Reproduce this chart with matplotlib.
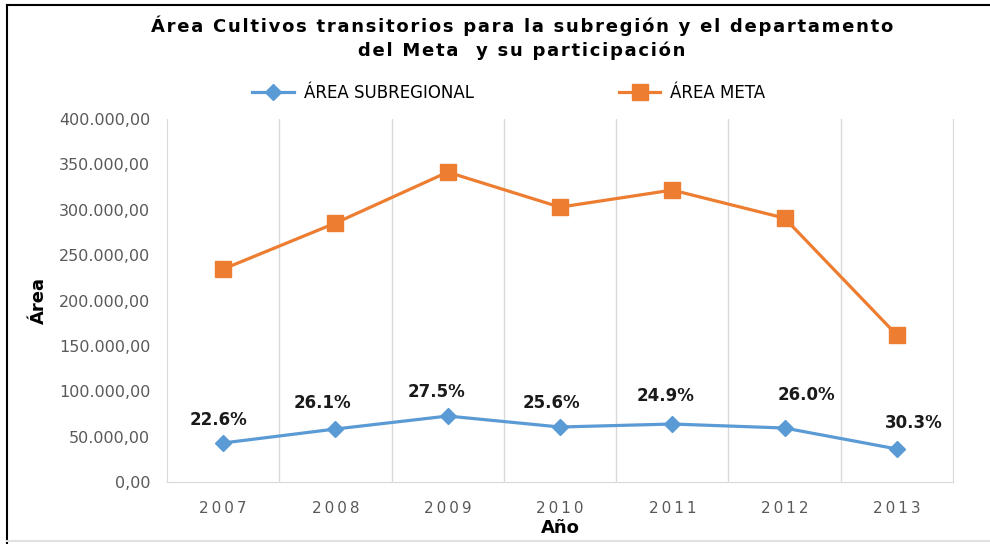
import numpy as np
import matplotlib.pyplot as plt
from matplotlib.lines import Line2D

years = ["2007", "2008", "2009", "2010", "2011", "2012", "2013"]
area_sub = [43000, 58400, 72700, 60600, 63900, 59500, 36400]
area_meta = [234700, 285400, 341600, 303000, 321800, 290900, 162000]
share = ["22.6%", "26.1%", "27.5%", "25.6%", "24.9%", "26.0%", "30.3%"]

# label offsets (points) relative to the blue markers
offs = [(-3, 10), (-9, 12), (-8, 11), (-6, 11), (-5, 14), (16, 17), (12, 12)]

blue = "#5B9BD5"
orange = "#ED7D31"
grey = "#595959"

fig = plt.figure(figsize=(9.9, 5.44), dpi=100)
ax = fig.add_axes([0.1687, 0.114, 0.7939, 0.667])

x = np.arange(len(years))
ax.plot(x, area_sub, color=blue, lw=2.3, marker="D", ms=8.5, label="ÁREA SUBREGIONAL")
ax.plot(x, area_meta, color=orange, lw=2.3, marker="s", ms=11, label="ÁREA META")

for i in range(len(x)):
    ax.annotate(share[i], (x[i], area_sub[i]), xytext=offs[i], textcoords="offset points",
                ha="center", va="bottom", fontsize=12, fontweight="bold", color="#1a1a1a")

ax.set_xlim(-0.5, len(years) - 0.5)
ax.set_ylim(0, 400000)
ax.set_yticks(np.arange(0, 400001, 50000))
ax.set_yticklabels([f"{int(v):,}".replace(",", ".") + ",00" for v in np.arange(0, 400001, 50000)])
ax.set_xticks(x)
ax.set_xticklabels(["\u2009".join(y) for y in years])
ax.set_xticks(np.arange(0.5, len(years) - 0.5), minor=True)
ax.grid(True, which="minor", axis="x", color="#D9D9D9", lw=1)
ax.tick_params(axis="both", which="both", length=0)
ax.tick_params(axis="y", labelsize=11.5, labelcolor=grey, pad=12)
ax.tick_params(axis="x", labelsize=11, labelcolor=grey, pad=14)

ax.spines["top"].set_visible(False)
for s in ["left", "right", "bottom"]:
    ax.spines[s].set_color("#D9D9D9")

ax.set_xlabel("Año", fontsize=13, fontweight="bold", labelpad=2)
ax.set_ylabel("Área", fontsize=13, fontweight="bold", labelpad=8)

title1 = "Área Cultivos transitorios para la subregión y el departamento"
title2 = "del Meta  y su participación"
fig.text(0.527, 0.953, "\u200a".join(title1), ha="center", va="center", fontsize=13, fontweight="bold")
fig.text(0.527, 0.907, "\u200a".join(title2), ha="center", va="center", fontsize=13, fontweight="bold")

fig.legend(loc="center", bbox_to_anchor=(0.514, 0.829), ncol=2, frameon=False,
           fontsize=12, handlelength=2.5, columnspacing=8.7, handletextpad=0.6)

# chart border
fig.add_artist(Line2D([0.007, 0.007], [0.0, 0.991], color="black", lw=1.5, transform=fig.transFigure))
fig.add_artist(Line2D([0.007, 1.0], [0.991, 0.991], color="black", lw=1.5, transform=fig.transFigure))
fig.add_artist(Line2D([0.007, 1.0], [0.006, 0.006], color="#E0E0E0", lw=1.5, transform=fig.transFigure))

fig.savefig("out.png", dpi=100)
